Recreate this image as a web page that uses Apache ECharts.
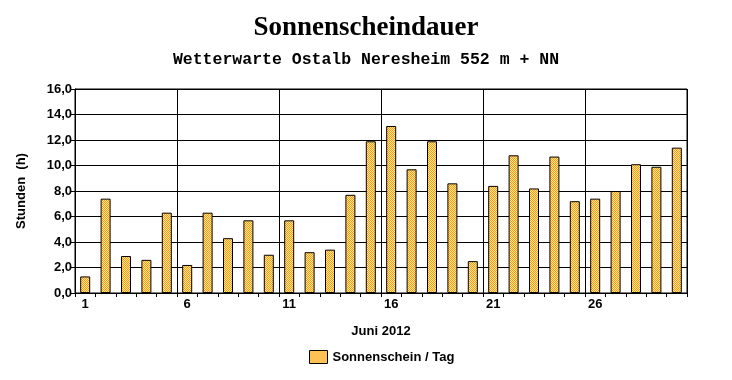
<!DOCTYPE html>
<html><head><meta charset="utf-8">
<script src="https://cdn.jsdelivr.net/npm/echarts@6/dist/echarts.min.js"></script>
<style>html,body{margin:0;padding:0;background:#fff}#c{width:732px;height:380px}</style>
</head><body><div id="c"></div>
<script>
const days = ['1','2','3','4','5','6','7','8','9','10','11','12','13','14','15','16','17','18','19','20','21','22','23','24','25','26','27','28','29','30'];
const sunshine = [1.3,7.4,2.9,2.6,6.3,2.2,6.3,4.3,5.7,3.0,5.7,3.2,3.4,7.7,11.9,13.1,9.7,11.9,8.6,2.5,8.4,10.8,8.2,10.7,7.2,7.4,8.0,10.1,9.9,11.4];
const yTicks = [0,2,4,6,8,10,12,14,16];
const titleText = 'Sonnenscheindauer';
const subText = 'Wetterwarte Ostalb Neresheim 552 m + NN';
const seriesName = 'Sonnenschein / Tag';

function makePattern(){
  const cv = document.createElement('canvas');
  cv.width = 2; cv.height = 2;
  const g = cv.getContext('2d');
  g.fillStyle = '#FFE6A8'; g.fillRect(0,0,2,2);
  g.fillStyle = '#FF9C00'; g.fillRect(0,0,1,1); g.fillRect(1,1,1,1);
  return cv;
}
const pat = {image: makePattern(), repeat: 'repeat'};

const chart = echarts.init(document.getElementById('c'), null, {renderer:'canvas'});
const bold = {fontFamily:'Liberation Sans', fontWeight:'bold', fontSize:13, color:'#000'};
chart.setOption({
  animation:false,
  backgroundColor:'#fff',
  title:[
    {text:titleText, left:'center', top:10, textStyle:{fontFamily:'Liberation Serif', fontWeight:'bold', fontSize:27, color:'#000'}},
    {text:subText, left:'center', top:46, textStyle:{fontFamily:'Liberation Mono', fontWeight:'bold', fontSize:16.5, color:'#000'}}
  ],
  legend:{
    bottom:11, left:304, itemWidth:18, itemHeight:13, itemGap:8, icon:'rect',
    textStyle:bold,
    data:[{name:seriesName, icon:'rect', itemStyle:{color:pat, borderColor:'#000', borderWidth:1}}]
  },
  grid:{left:75, right:45, top:89, bottom:87, show:true, borderColor:'#000', borderWidth:1, backgroundColor:'transparent'},
  xAxis:{
    type:'category', data:days, boundaryGap:true,
    name:'Juni 2012', nameLocation:'middle', nameGap:32, nameTextStyle:bold,
    axisLine:{lineStyle:{color:'#000', width:1}},
    axisTick:{show:true, interval:0, length:4, lineStyle:{color:'#000'}},
    axisLabel:{interval:4, margin:5, ...bold},
    splitLine:{show:true, interval:function(i){return i>0 && i%5===0;}, lineStyle:{color:'#000', width:1}}
  },
  yAxis:{
    type:'value', min:0, max:16, interval:2,
    name:'Stunden  (h)', nameLocation:'middle', nameGap:47, nameRotate:90, nameTextStyle:bold,
    axisLine:{show:true, lineStyle:{color:'#000', width:1}},
    axisTick:{show:true, length:4, lineStyle:{color:'#000'}},
    axisLabel:{margin:3, ...bold, formatter:function(v){return v.toFixed(1).replace('.',',');}},
    splitLine:{show:true, lineStyle:{color:'#000', width:1}}
  },
  series:[{
    name:seriesName, type:'bar', data:sunshine, barWidth:10,
    itemStyle:{color:pat, borderColor:'#000', borderWidth:1}
  }]
});
</script></body></html>
